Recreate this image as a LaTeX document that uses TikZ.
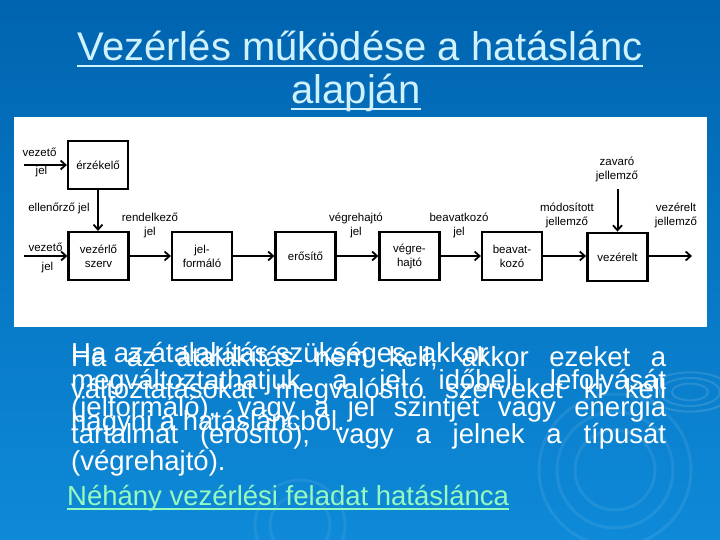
\documentclass[tikz,border=0pt]{standalone}
\usepackage{fontspec}
\setmainfont{Liberation Sans}
\usetikzlibrary{arrows.meta}

\definecolor{hatterfent}{RGB}{0,100,176}
\definecolor{hatterlent}{RGB}{14,138,216}
\definecolor{cimszin}{RGB}{208,242,255}
\definecolor{linkszin}{RGB}{150,250,190}

\tikzset{
  blokk/.style={draw=black, line width=2.2pt, minimum width=60pt, minimum height=48pt,
    align=center, inner sep=0pt, font=\fontsize{11.5}{14}\selectfont},
  felirat/.style={align=center, inner sep=0pt, font=\fontsize{11.5}{14}\selectfont},
  nyil/.style={line width=2pt, -{Straight Barb[length=5pt,width=9pt,line width=1.8pt]}},
  cim/.style={anchor=base, inner sep=0pt, text=cimszin, font=\fontsize{40}{44}\selectfont},
  szoveg/.style={anchor=base west, inner sep=0pt, text=white, font=\fontsize{27.5}{30}\selectfont},
}

\begin{document}
\begin{tikzpicture}[x=1pt,y=-1pt]
    \useasboundingbox (0,0) rectangle (720,540);

    % 1. lépés: háttér és halvány körök
    \shade[top color=hatterfent, bottom color=hatterlent] (0,0) rectangle (720,540);
    \foreach \r in {12,20,28}
        \draw[white, opacity=0.12, line width=2pt] (690,392) ellipse ({\r*1.5} and {\r*0.7});
    \foreach \r in {40,58,76}
        \draw[white, opacity=0.08, line width=3pt] (615,470) circle (\r);
    \foreach \r in {30,45}
        \draw[white, opacity=0.07, line width=3pt] (300,525) circle (\r);

    % 2. lépés: cím
    \node[cim] (cim1) at (360,61) {Vezérlés működése a hatáslánc};
    \node[cim] (cim2) at (356,104) {alapján};
    \draw[cimszin, line width=2pt] ([yshift=-5pt]cim1.base west) -- ([yshift=-5pt]cim1.base east);
    \draw[cimszin, line width=2pt] ([yshift=-5pt]cim2.base west) -- ([yshift=-5pt]cim2.base east);

    % 3. lépés: fehér lap a hatáslánccal
    \fill[white] (14,117) rectangle (707,327);

    % blokkok
    \node[blokk] (erz) at (98,165) {érzékelő};
    \node[blokk] (szerv) at (98.5,256) {vezérlő\\szerv};
    \node[blokk] (jelf) at (202,256) {jel-\\formáló};
    \node[blokk] (eros) at (305.5,256) {erősítő};
    \node[blokk] (vegr) at (409.5,256) {végre-\\hajtó};
    \node[blokk] (beav) at (512,256) {beavat-\\kozó};
    \node[blokk, line width=2.8pt] (szak) at (617.5,257) {vezérelt};

    % szabad végek
    \coordinate (be1) at (24,165);
    \coordinate (be2) at (24,256);
    \coordinate (zav) at (617.5,189);
    \coordinate (ki) at (692,256);

    % nyilak
    \draw[nyil] (be1) -- (erz.west);
    \draw[nyil] (erz.south) -- (erz.south |- szerv.north);
    \draw[nyil] (be2) -- (szerv.west);
    \draw[nyil] (szerv.east) -- (jelf.west);
    \draw[nyil] (jelf.east) -- (eros.west);
    \draw[nyil] (eros.east) -- (vegr.west);
    \draw[nyil] (vegr.east) -- (beav.west);
    \draw[nyil] (beav.east) -- (szak.west |- beav.east);
    \draw[nyil] (zav) -- (szak.north);
    \draw[nyil] (szak.east |- ki) -- (ki);

    % jelek nevei
    \foreach \x/\y/\t [count=\i] in {39.5/152/vezető, 41.5/172/jel, 59/208/{ellenőrző jel},
        45.5/247/vezető, 47.5/268/jel, 150/225/{rendelkező\\jel}, 356/225/{végrehajtó\\jel},
        459/225/{beavatkozó\\jel}, 567/215/{módosított\\jellemző}, 617/169/{zavaró\\jellemző},
        676/215/{vezérelt\\jellemző}} {
        \node[felirat] (f\i) at (\x,\y) {\t};
    }

    % 4. lépés: egymásra csúszott szöveg
    \node[szoveg] (a1) at (71,362) {Ha az átalakítás szükséges, akkor};
    \node[szoveg] (a2) at (71,389) {\makebox[595pt][s]{megváltoztathatjuk a jel időbeli lefolyását}};
    \node[szoveg] (a3) at (71,416) {\makebox[595pt][s]{(jelformáló), vagy a jel szintjét vagy energia}};
    \node[szoveg] (a4) at (71,443) {\makebox[595pt][s]{tartalmát (erősítő), vagy a jelnek a típusát}};
    \node[szoveg] (a5) at (71,470) {(végrehajtó).};

    \node[szoveg] (b1) at (71,366) {\makebox[595pt][s]{Ha az átalakítás nem kell, akkor ezeket a}};
    \node[szoveg] (b2) at (71,398) {\makebox[595pt][s]{változtatásokat megvalósító szerveket ki kell}};
    \node[szoveg] (b3) at (71,430) {hagyni a hatásláncból.};

    % 5. lépés: hivatkozás
    \node[szoveg, text=linkszin] (link) at (67,505) {Néhány vezérlési feladat hatáslánca};
    \draw[linkszin, line width=1.6pt] ([yshift=-4pt]link.base west) -- ([yshift=-4pt]link.base east);

\end{tikzpicture}
\end{document}
